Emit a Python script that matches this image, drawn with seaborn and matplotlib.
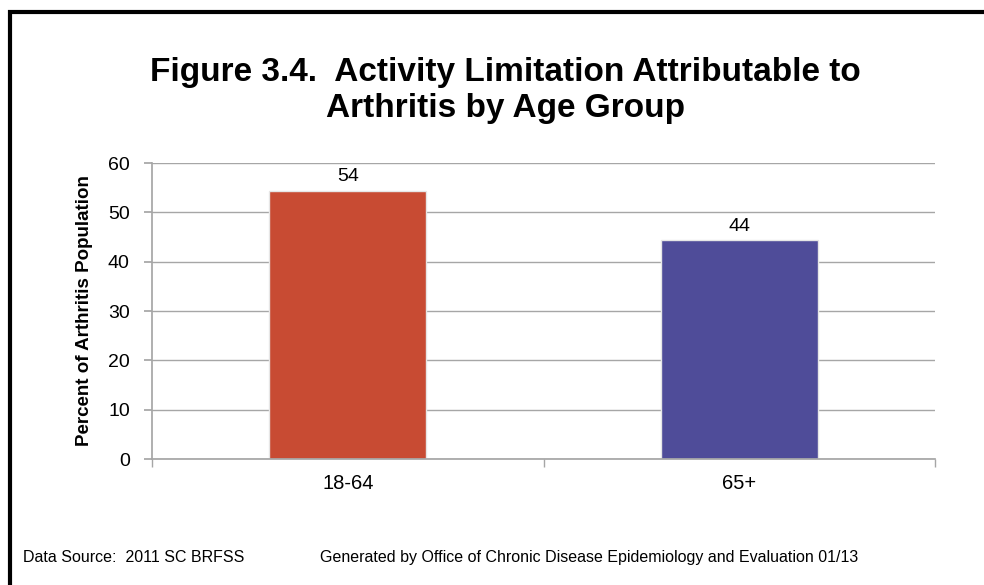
import matplotlib.pyplot as plt
import seaborn as sns
import pandas as pd
from matplotlib.patches import Rectangle

age_groups = ['18-64', '65+']
percent = [54.4, 44.3]
bar_labels = ['54', '44']
bar_colors = ['#C84B33', '#4F4C99']
y_ticks = [0, 10, 20, 30, 40, 50, 60]

df = pd.DataFrame({'age': age_groups, 'pct': percent})

sns.set_theme(style='white')
plt.rcParams['font.family'] = ['Liberation Sans', 'DejaVu Sans']
plt.rcParams['text.color'] = 'black'
plt.rcParams['axes.labelcolor'] = 'black'

W, H = 984, 585
fig = plt.figure(figsize=(W/100, H/100), dpi=100)
ax = fig.add_axes([152/W, 1-459/H, 783/W, 296/H])

sns.barplot(data=df, x='age', y='pct', hue='age', palette=bar_colors,
            width=0.4, saturation=1, legend=False, ax=ax,
            edgecolor='#e6e6e6', linewidth=1)

ax.set_ylim(0, 60)
ax.set_xlim(-0.5, 1.5)
ax.set_yticks(y_ticks)
ax.set_yticklabels([str(t) for t in y_ticks], fontsize=14)
ax.yaxis.grid(True, color='#a6a6a6', linewidth=1)
ax.set_axisbelow(True)
for s in ['top', 'right']:
    ax.spines[s].set_visible(False)
ax.spines['left'].set_color('#a6a6a6')
ax.spines['bottom'].set_color('#a6a6a6')

# category labels centred, tick marks between categories
ax.set_xticks([0, 1])
ax.set_xticklabels(age_groups, fontsize=14.5)
ax.tick_params(axis='x', length=0, pad=11, labelcolor='black')
ax.set_xticks([-0.5, 0.5, 1.5], minor=True)
ax.tick_params(axis='x', which='minor', length=6, color='#a6a6a6', direction='out', bottom=True)
ax.tick_params(axis='y', length=6, color='#a6a6a6', direction='out', left=True, pad=10,
               labelcolor='black')

ax.set_xlabel('')
ax.set_ylabel('Percent of Arthritis Population', fontsize=13.5, fontweight='bold')
ax.yaxis.set_label_coords((93-152)/783, 0.5)

for i, (v, lab) in enumerate(zip(percent, bar_labels)):
    ax.text(i, v + 1.2, lab, ha='center', va='bottom', fontsize=14)

fig.text(505/W, 1-81/H, 'Figure 3.4.  Activity Limitation Attributable to',
         ha='center', va='baseline', fontsize=24, fontweight='bold')
fig.text(505/W, 1-117/H, 'Arthritis by Age Group',
         ha='center', va='baseline', fontsize=24, fontweight='bold')

fig.text(23/W, 1-562/H, 'Data Source:  2011 SC BRFSS', fontsize=11.5, va='baseline')
fig.text(320/W, 1-562/H,
         'Generated by Office of Chronic Disease Epidemiology and Evaluation 01/13',
         fontsize=11.5, va='baseline')

# black frame, only left and top edges fall inside the image
fig.patches.append(Rectangle((10/W, -0.05), 1.2, 1-12/H+0.05, transform=fig.transFigure,
                             fill=False, edgecolor='black', linewidth=3))

fig.savefig('out.png', dpi=100)
